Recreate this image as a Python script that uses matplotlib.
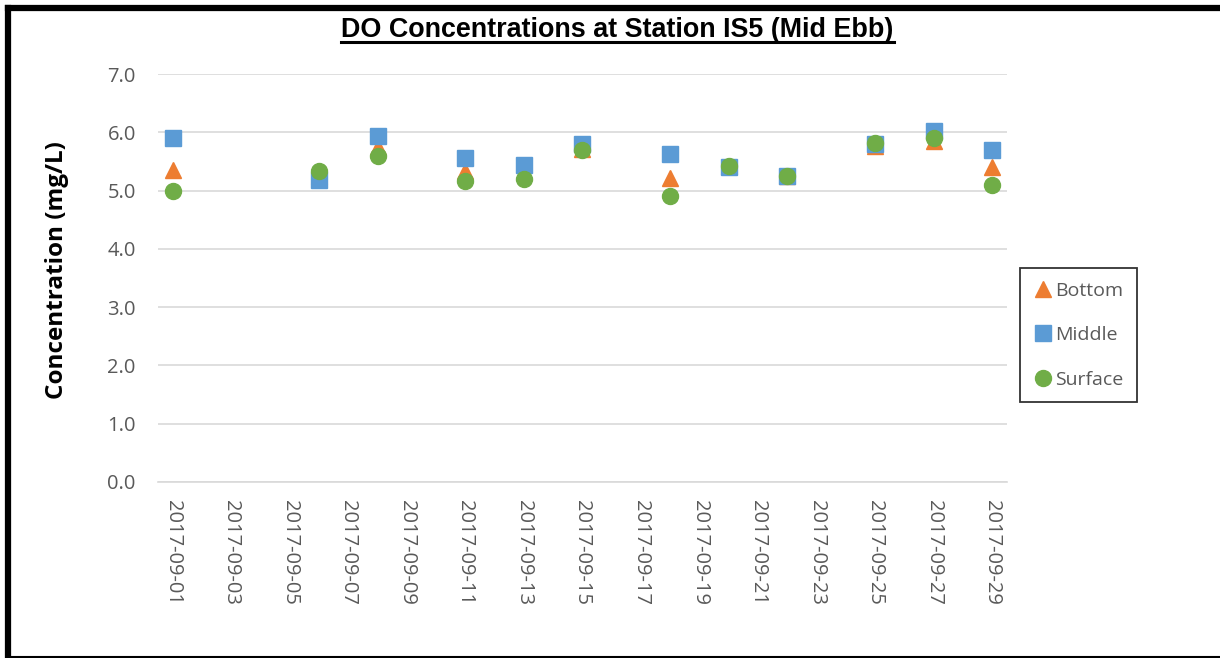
#!/usr/bin/env python3
"""DO concentrations at station IS5 (mid ebb) - scatter of bottom/middle/surface."""

import numpy as np
import pandas as pd
import matplotlib
matplotlib.use("Agg")
import matplotlib.pyplot as plt
import matplotlib.dates as mdates
from matplotlib.lines import Line2D

# --- data ---
dates = ["2017-09-01", "2017-09-06", "2017-09-08", "2017-09-11", "2017-09-13",
         "2017-09-15", "2017-09-18", "2017-09-20", "2017-09-22", "2017-09-25",
         "2017-09-27", "2017-09-29"]
bottom = [5.35, 5.25, 5.74, 5.33, 5.32, 5.72, 5.21, 5.42, 5.25, 5.77, 5.85, 5.41]
middle = [5.90, 5.18, 5.93, 5.56, 5.44, 5.80, 5.62, 5.41, 5.25, 5.80, 6.02, 5.69]
surface = [5.00, 5.33, 5.60, 5.17, 5.20, 5.70, 4.91, 5.43, 5.25, 5.81, 5.91, 5.10]

x = pd.to_datetime(dates)

TICK_GRAY = "#595959"
GRID = "#D9D9D9"


def main():
    fig = plt.figure(figsize=(12.2, 6.58), dpi=100)
    ax = fig.add_axes([0.1295, 0.2675, 0.6959, 0.62])

    ax.plot(x, bottom, linestyle="none", marker="^", markersize=11.5,
            color="#ED7D31", label="Bottom", zorder=3)
    ax.plot(x, middle, linestyle="none", marker="s", markersize=11,
            color="#5B9BD5", label="Middle", zorder=4)
    ax.plot(x, surface, linestyle="none", marker="o", markersize=11.5,
            color="#70AD47", label="Surface", zorder=5)

    # axes limits / ticks
    ax.set_ylim(0, 7)
    ax.set_yticks(np.arange(0, 7.01, 1.0))
    ax.yaxis.set_major_formatter(plt.FuncFormatter(lambda v, p: f"{v:.1f}"))
    ax.set_xlim(pd.Timestamp("2017-08-31 12:00"), pd.Timestamp("2017-09-29 12:00"))
    ticks = pd.date_range("2017-09-01", "2017-09-29", freq="2D")
    ax.set_xticks(ticks)
    ax.xaxis.set_major_formatter(mdates.DateFormatter("%Y-%m-%d"))

    ax.tick_params(axis="both", length=0, colors=TICK_GRAY, labelsize=14.5)
    ax.tick_params(axis="y", pad=16)
    ax.tick_params(axis="x", pad=13)
    for lab in ax.get_xticklabels():
        lab.set_rotation(270)
        lab.set_fontfamily("Open Sans")
    for lab in ax.get_yticklabels():
        lab.set_fontfamily("Open Sans")

    ax.grid(axis="y", color=GRID, linewidth=1.2)
    ax.set_axisbelow(True)
    for s in ["top", "right", "left"]:
        ax.spines[s].set_visible(False)
    ax.spines["bottom"].set_color(GRID)
    ax.spines["bottom"].set_linewidth(1.2)

    fig.text(0.047, 0.59, "Concentration (mg/L)", rotation=90, ha="center",
             va="center", fontsize=17.5, fontweight="bold", family="Open Sans")

    # title with underline
    title = fig.text(0.506, 0.955, "DO Concentrations at Station IS5 (Mid Ebb)",
                     ha="center", va="center", fontsize=19.4, fontweight="bold",
                     family="Liberation Sans")
    fig.canvas.draw()
    bb = title.get_window_extent().transformed(fig.transFigure.inverted())
    fig.add_artist(Line2D([bb.x0, bb.x1], [bb.y0 + 0.001, bb.y0 + 0.001],
                          color="black", linewidth=2.2, transform=fig.transFigure))

    leg = fig.legend(loc="upper left", bbox_to_anchor=(0.836, 0.5927),
                     borderaxespad=0, frameon=True, fancybox=False,
                     handletextpad=0.1, handlelength=1.0, labelspacing=1.36,
                     borderpad=0.7, prop={"family": "Open Sans", "size": 14})
    leg.get_frame().set_edgecolor("black")
    leg.get_frame().set_linewidth(1.3)
    for t in leg.get_texts():
        t.set_color(TICK_GRAY)

    # outer border
    fig.add_artist(Line2D([0.0062, 1.0], [0.9878, 0.9878], color="black",
                          linewidth=4.5, transform=fig.transFigure))
    fig.add_artist(Line2D([0.0062, 0.0062], [0.0, 0.9878], color="black",
                          linewidth=4.5, transform=fig.transFigure))
    fig.add_artist(Line2D([0.0062, 1.0], [0.0015, 0.0015], color="black",
                          linewidth=1.5, transform=fig.transFigure))

    fig.savefig("out.png", dpi=100)
    plt.close(fig)


if __name__ == "__main__":
    main()
